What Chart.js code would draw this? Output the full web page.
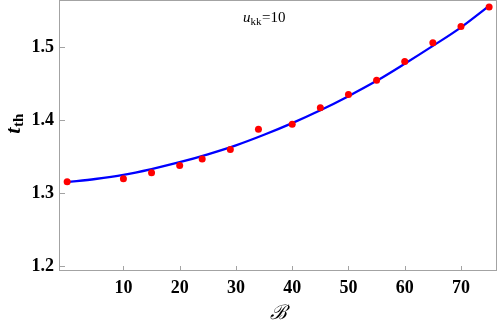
<!DOCTYPE html>
<html lang="en">
<head>
    <meta charset="UTF-8">
    <title>t_th vs B</title>
    <script src="https://cdn.jsdelivr.net/npm/chart.js@4.4.0/dist/chart.umd.min.js"></script>
    <style>
        * { margin: 0; padding: 0; box-sizing: border-box; }
        body { background: white; width: 498px; height: 324px; overflow: hidden; }
        canvas { display: block; }
    </style>
</head>
<body>
    <canvas id="chart" width="498" height="324"></canvas>

    <script>
        // Simulation points (red dots)
        const pointB = [0, 10, 15, 20, 24, 29, 34, 40, 45, 50, 55, 60, 65, 70, 75];
        const pointT = [1.3156, 1.3197, 1.328, 1.3377, 1.3469, 1.3597, 1.3876, 1.3945, 1.417, 1.4354, 1.455, 1.4805, 1.5063, 1.5285, 1.5554];

        // Fitted curve (blue line)
        const curveB = [0, 5, 10, 15, 20, 25, 30, 35, 40, 45, 50, 55, 60, 65, 70, 75];
        const curveT = [1.315, 1.3193, 1.3250, 1.3330, 1.3423, 1.3532, 1.3655, 1.3800, 1.3960, 1.4136, 1.4330, 1.4540, 1.4775, 1.5020, 1.5275, 1.5570];

        // Axis ticks
        const xTicks = [10, 20, 30, 40, 50, 60, 70];
        const yTicks = [1.2, 1.3, 1.4, 1.5];

        const tickFont = { family: "'Liberation Serif', 'Times New Roman', serif", size: 18, weight: 'bold' };
        const frameColor = '#a3a3a3';

        // Frame, inward tick marks and the math-style labels
        const decorPlugin = {
            id: 'decor',
            afterDraw(chart) {
                const { ctx, chartArea: a, scales: { x, y } } = chart;
                ctx.save();
                ctx.strokeStyle = frameColor;
                ctx.lineWidth = 1;
                ctx.strokeRect(a.left + 0.5, a.top + 0.5, a.width - 1, a.height - 1);

                ctx.beginPath();
                xTicks.forEach(v => {
                    const px = Math.round(x.getPixelForValue(v)) + 0.5;
                    ctx.moveTo(px, a.bottom);
                    ctx.lineTo(px, a.bottom - 5);
                });
                yTicks.forEach(v => {
                    const py = Math.round(y.getPixelForValue(v)) + 0.5;
                    ctx.moveTo(a.left, py);
                    ctx.lineTo(a.left + 6, py);
                });
                ctx.stroke();

                ctx.fillStyle = '#000';
                ctx.textBaseline = 'alphabetic';

                // annotation u_kk = 10
                let cx = 243;
                const by = 22;
                ctx.font = "italic 15px 'Liberation Serif', serif";
                ctx.fillText('u', cx, by);
                cx += ctx.measureText('u').width;
                ctx.font = "11px 'Liberation Serif', serif";
                ctx.fillText('kk', cx, by + 3);
                cx += ctx.measureText('kk').width + 0.5;
                ctx.font = "15px 'Liberation Serif', serif";
                ctx.fillText('=10', cx, by);

                // x title: script B
                ctx.font = "italic 20px 'DejaVu Serif', serif";
                ctx.textAlign = 'center';
                ctx.fillText('\u212C', (a.left + a.right) / 2, 319);

                // y title: t_th, rotated
                ctx.translate(20, 124);
                ctx.rotate(-Math.PI / 2);
                ctx.textAlign = 'left';
                ctx.font = "italic bold 22px 'Liberation Serif', serif";
                const tw = ctx.measureText('t').width;
                ctx.font = "bold 15px 'Liberation Serif', serif";
                const sw = ctx.measureText('th').width;
                const start = -(tw + sw) / 2;
                ctx.font = "italic bold 22px 'Liberation Serif', serif";
                ctx.fillText('t', start, 0);
                ctx.font = "bold 15px 'Liberation Serif', serif";
                ctx.fillText('th', start + tw + 0.5, 3);
                ctx.restore();
            }
        };

        new Chart(document.getElementById('chart'), {
            type: 'scatter',
            data: {
                datasets: [
                    {
                        label: 'fit',
                        type: 'line',
                        data: curveB.map((b, i) => ({ x: b, y: curveT[i] })),
                        borderColor: '#0000ff',
                        borderWidth: 2.3,
                        pointRadius: 0,
                        fill: false,
                        cubicInterpolationMode: 'monotone',
                        order: 2
                    },
                    {
                        label: 'points',
                        data: pointB.map((b, i) => ({ x: b, y: pointT[i] })),
                        backgroundColor: '#ff0000',
                        borderWidth: 0,
                        pointRadius: 3.5,
                        order: 1
                    }
                ]
            },
            options: {
                responsive: false,
                devicePixelRatio: 1,
                animation: false,
                layout: { autoPadding: false, padding: { top: 0, right: 1, left: 0, bottom: 0 } },
                plugins: {
                    legend: { display: false },
                    tooltip: { enabled: false }
                },
                scales: {
                    x: {
                        type: 'linear',
                        min: -1.45,
                        max: 76.4,
                        grid: { display: false, drawTicks: false },
                        border: { display: false },
                        afterBuildTicks: s => { s.ticks = xTicks.map(v => ({ value: v })); },
                        afterFit: s => {
                            s.height = 53;
                            s.paddingLeft = 0;
                            s.paddingRight = 0;
                        },
                        ticks: {
                            color: '#000',
                            font: tickFont,
                            padding: 7,
                            maxRotation: 0,
                            callback: v => String(v)
                        }
                    },
                    y: {
                        type: 'linear',
                        min: 1.193,
                        max: 1.565,
                        grid: { display: false, drawTicks: false },
                        border: { display: false },
                        afterBuildTicks: s => { s.ticks = yTicks.map(v => ({ value: v })); },
                        afterFit: s => {
                            s.width = 59;
                            s.paddingTop = 0;
                            s.paddingBottom = 0;
                        },
                        ticks: {
                            color: '#000',
                            font: tickFont,
                            padding: 5,
                            callback: v => v.toFixed(1)
                        }
                    }
                }
            },
            plugins: [decorPlugin]
        });
    </script>
</body>
</html>
